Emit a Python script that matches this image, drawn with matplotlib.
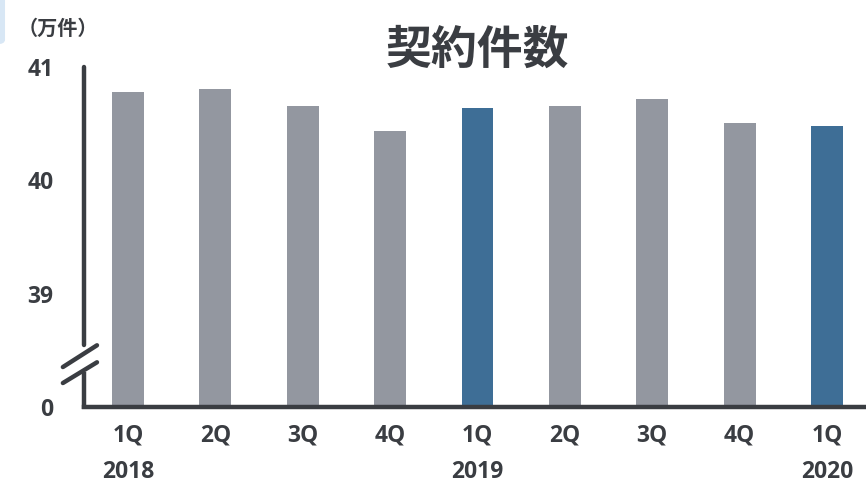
import numpy as np
import matplotlib
matplotlib.use("Agg")
import matplotlib.pyplot as plt
from matplotlib.patches import FancyBboxPatch

plt.rcParams['font.family'] = ['Open Sans', 'Noto Sans CJK JP', 'DejaVu Sans']

# 契約件数 (万件)
quarters = ['1Q', '2Q', '3Q', '4Q', '1Q', '2Q', '3Q', '4Q', '1Q']
years = ['2018', '', '', '', '2019', '', '', '', '2020']
values = [40.78, 40.81, 40.66, 40.44, 40.64, 40.66, 40.72, 40.51, 40.48]
highlight = [False, False, False, False, True, False, False, False, True]
ytick_vals = [0, 39, 40, 41]

GRAY = '#9397a0'
BLUE = '#3e6e96'
DARK = '#3a3d42'


# 省略軸: 0 -> 39 の区間を 1 目盛り分に詰める
def fwd(v):
    v = np.asarray(v, dtype=float)
    return np.where(v >= 39, v - 38, v / 39)


def inv(y):
    y = np.asarray(y, dtype=float)
    return np.where(y >= 1, y + 38, y * 39)


fig = plt.figure(figsize=(8.66, 4.83), dpi=100)
ax = fig.add_axes([0.097, 0.157, 0.903, 0.704])
ax.set_yscale('function', functions=(fwd, inv))

x = np.arange(len(values))
colors = [BLUE if h else GRAY for h in highlight]
ax.bar(x, values, width=0.366, color=colors, zorder=2)

ax.set_xlim(-0.503, 8.446)
ax.set_ylim(0, 41)

labels = [q if not y else q + '\n' + y for q, y in zip(quarters, years)]
ax.set_xticks(x)
ax.set_xticklabels(labels, fontsize=16.5, fontweight='bold', color=DARK,
                   linespacing=1.65)
ax.set_yticks(ytick_vals)
ax.set_yticklabels([str(v) for v in ytick_vals], fontsize=16.5,
                   fontweight='bold', color=DARK)
ax.tick_params(axis='y', length=0, pad=22)
ax.tick_params(axis='x', length=0, pad=12)

for s in ['top', 'right', 'left']:
    ax.spines[s].set_visible(False)
ax.spines['bottom'].set_color(DARK)
ax.spines['bottom'].set_linewidth(3.2)

# 縦軸 (途中で省略)
ax.plot([0, 0], [-0.004, 0.103], transform=ax.transAxes, color=DARK,
        lw=3.2, clip_on=False, solid_capstyle='butt', zorder=3)
ax.plot([0, 0], [0.182, 1.0], transform=ax.transAxes, color=DARK,
        lw=3.2, clip_on=False, solid_capstyle='round', zorder=3)
# 省略記号
for y0, y1 in [(0.118, 0.182), (0.071, 0.132)]:
    ax.plot([-0.027, 0.0166], [y0, y1], transform=ax.transAxes, color=DARK,
            lw=3.2, clip_on=False, solid_capstyle='round', zorder=3)

fig.text(0.551, 0.893, '契約件数', ha='center', va='center', fontsize=33,
         fontweight='bold', color=DARK)
fig.text(0.067, 0.938, '（万件）', ha='center', va='center', fontsize=14.5,
         fontweight='bold', color=DARK)

# 左上の飾り
fig.patches.append(FancyBboxPatch((-0.03, 0.91), 0.035, 0.1,
                                  boxstyle='round,pad=0,rounding_size=0.008',
                                  transform=fig.transFigure, color='#d8e7f5',
                                  zorder=0))

fig.savefig('out.png', dpi=100)
